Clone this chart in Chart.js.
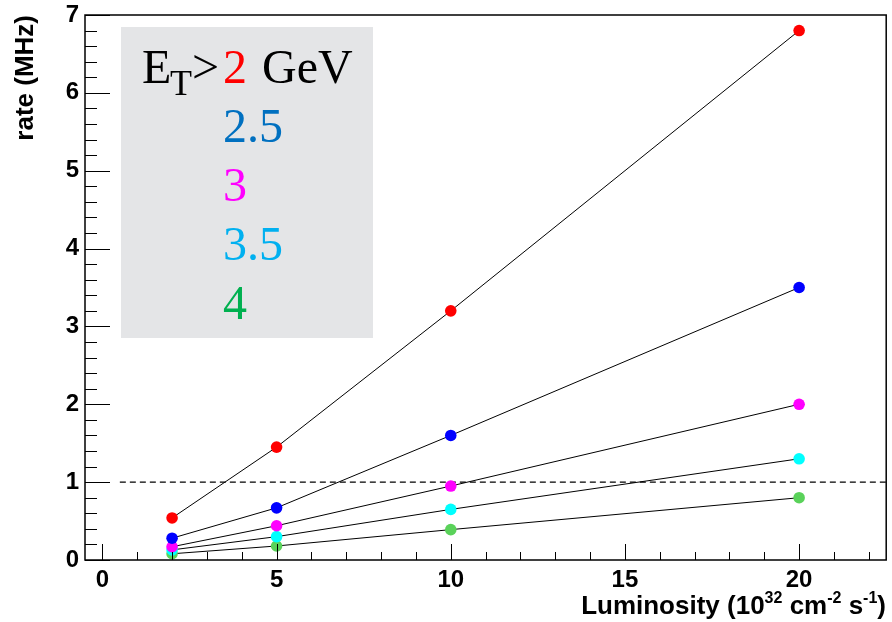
<!DOCTYPE html>
<html>
<head>
<meta charset="utf-8">
<script src="https://cdn.jsdelivr.net/npm/chart.js@4.4.1/dist/chart.umd.min.js"></script>
<style>
  html, body { margin: 0; padding: 0; background: #fff; }
</style>
</head>
<body>
<canvas id="chart" width="892" height="622"></canvas>
<script>
// Sample Data
const luminosity = [2, 5, 10, 20];
const rateEt2 = [0.54, 1.45, 3.2, 6.8];
const rateEt25 = [0.28, 0.67, 1.6, 3.5];
const rateEt3 = [0.17, 0.44, 0.95, 2.0];
const rateEt35 = [0.13, 0.30, 0.65, 1.3];
const rateEt4 = [0.08, 0.18, 0.39, 0.8];
const thresholds = ['2', '2.5', '3', '3.5', '4'];
const markerColors = ['#ff0000', '#0000ff', '#ff00ff', '#00ffff', '#5ad25a'];
const labelColors = ['#ff0000', '#0070c0', '#ff00ff', '#00b0f0', '#00b050'];
const limitX = [0.5, 22.5];
const limitY = [1, 1];
const xTicks = [0, 5, 10, 15, 20];
const yTicks = [0, 1, 2, 3, 4, 5, 6, 7];

const series = [rateEt2, rateEt25, rateEt3, rateEt35, rateEt4];

function points(xs, ys) {
    return xs.map((x, i) => ({ x: x, y: ys[i] }));
}

const datasets = series.map((ys, i) => ({
    label: thresholds[i],
    data: points(luminosity, ys),
    borderColor: '#000',
    borderWidth: 1,
    pointRadius: 5.8,
    pointBackgroundColor: markerColors[i],
    pointBorderColor: markerColors[i],
    pointBorderWidth: 0,
    tension: 0,
    fill: false
}));

datasets.push({
    label: 'limit',
    data: points(limitX, limitY),
    borderColor: '#000',
    borderWidth: 1.3,
    borderDash: [6, 4],
    pointRadius: 0,
    fill: false
});

// frame, inward ticks, titles and the ET box
const rootStyle = {
    id: 'rootStyle',
    beforeDatasetsDraw(chart) {
        const ctx = chart.ctx;
        ctx.save();
        ctx.fillStyle = '#e4e5e7';
        ctx.fillRect(121, 27, 252, 311);

        ctx.textBaseline = 'alphabetic';
        ctx.textAlign = 'left';
        ctx.fillStyle = '#000';
        ctx.font = '48px "Liberation Serif"';
        ctx.fillText('E', 142, 83);
        ctx.font = '36px "Liberation Serif"';
        ctx.fillText('T', 170, 95);
        ctx.font = '48px "Liberation Serif"';
        ctx.fillText('>', 192, 83);
        ctx.fillText('GeV', 262, 83);
        thresholds.forEach((t, i) => {
            ctx.fillStyle = labelColors[i];
            ctx.fillText(t, 223, 83 + i * 59);
        });
        ctx.restore();
    },
    afterDatasetsDraw(chart) {
        const ctx = chart.ctx;
        const a = chart.chartArea;
        const xs = chart.scales.x;
        const ys = chart.scales.y;
        ctx.save();
        ctx.strokeStyle = '#000';
        ctx.lineWidth = 1;
        ctx.beginPath();
        for (let v = 0; v <= 22; v++) {
            const px = Math.round(xs.getPixelForValue(v)) + 0.5;
            const len = v % 5 === 0 ? 16 : 8;
            ctx.moveTo(px, a.bottom);
            ctx.lineTo(px, a.bottom - len);
        }
        for (let k = 0; k <= 35; k++) {
            const py = Math.round(ys.getPixelForValue(k / 5)) + 0.5;
            const len = k % 5 === 0 ? 25 : 12;
            ctx.moveTo(a.left, py);
            ctx.lineTo(a.left + len, py);
        }
        ctx.stroke();

        ctx.lineWidth = 1.5;
        ctx.strokeRect(a.left, a.top, a.right - a.left, a.bottom - a.top);

        // y title
        ctx.fillStyle = '#000';
        ctx.font = 'bold 26px "Liberation Sans"';
        ctx.translate(33, a.top);
        ctx.rotate(-Math.PI / 2);
        ctx.textAlign = 'right';
        ctx.textBaseline = 'alphabetic';
        ctx.fillText('rate (MHz)', 0, 0);
        ctx.setTransform(1, 0, 0, 1, 0, 0);

        // x title with superscripts
        const parts = [
            ['Luminosity (10', false], ['32', true], [' cm', false], ['-2', true],
            [' s', false], ['-1', true], [')', false]
        ];
        const big = 'bold 26px "Liberation Sans"';
        const small = 'bold 16px "Liberation Sans"';
        let total = 0;
        parts.forEach(p => { ctx.font = p[1] ? small : big; total += ctx.measureText(p[0]).width; });
        let x = 886 - total;
        ctx.textAlign = 'left';
        parts.forEach(p => {
            ctx.font = p[1] ? small : big;
            ctx.fillText(p[0], x, p[1] ? 603 : 614);
            x += ctx.measureText(p[0]).width;
        });
        ctx.restore();
    }
};

new Chart(document.getElementById('chart'), {
    type: 'line',
    data: { datasets: datasets },
    options: {
        responsive: false,
        animation: false,
        devicePixelRatio: 1,
        layout: { padding: { top: 15, right: 4, left: 0, bottom: 0 } },
        plugins: {
            legend: { display: false },
            tooltip: { enabled: false }
        },
        scales: {
            x: {
                type: 'linear',
                min: -0.5,
                max: 22.5,
                afterBuildTicks: s => { s.ticks = xTicks.map(v => ({ value: v })); },
                afterFit: s => { s.height = 62; s.paddingLeft = 0; s.paddingRight = 0; },
                grid: { display: false, drawTicks: false },
                border: { display: false },
                ticks: {
                    padding: 6,
                    maxRotation: 0,
                    autoSkip: false,
                    color: '#000',
                    font: { family: 'Liberation Sans', weight: 'bold', size: 24 }
                }
            },
            y: {
                type: 'linear',
                min: 0,
                max: 7,
                afterBuildTicks: s => { s.ticks = yTicks.map(v => ({ value: v })); },
                afterFit: s => { s.width = 85; s.paddingTop = 0; s.paddingBottom = 0; },
                grid: { display: false, drawTicks: false },
                border: { display: false },
                ticks: {
                    padding: 6,
                    color: '#000',
                    font: { family: 'Liberation Sans', weight: 'bold', size: 24 }
                }
            }
        }
    },
    plugins: [rootStyle]
});
</script>
</body>
</html>
